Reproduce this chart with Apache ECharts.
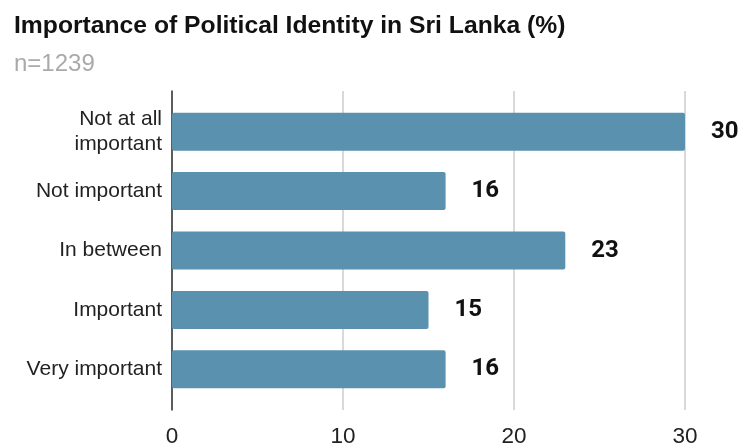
<!DOCTYPE html>
<html>
<head>
<meta charset="utf-8">
<style>
  html, body { margin: 0; padding: 0; background: #fff; }
  #chart { width: 739px; height: 448px; }
</style>
<script src="https://cdn.jsdelivr.net/npm/echarts@6/dist/echarts.min.js"></script>
</head>
<body>
<div id="chart"></div>
<script>
// Survey response categories, top to bottom
const categories = ['Not at all\nimportant', 'Not important', 'In between', 'Important', 'Very important'];
// Share of respondents (%)
const shares = [30, 16, 23, 15, 16];
// Horizontal axis ticks
const xTicks = { min: 0, max: 30, interval: 10 };

const chart = echarts.init(document.getElementById('chart'), null, { renderer: 'canvas' });

const plotLeft = 172;
const plotRight = 54;
const sans = 'Liberation Sans, Arial, sans-serif';

chart.setOption({
  animation: false,
  textStyle: { fontFamily: sans },
  title: {
    text: 'Importance of Political Identity in Sri Lanka (%)',
    subtext: 'n=1239',
    left: 14,
    top: 14,
    padding: 0,
    itemGap: 13,
    textStyle: { fontSize: 24.7, fontWeight: 'bold', color: '#111', fontFamily: sans },
    subtextStyle: { fontSize: 24, color: '#aaaaaa', fontFamily: sans }
  },
  grid: [
    // bars
    { left: plotLeft, right: plotRight, top: 102, height: 297 },
    // value axis frame: gridlines, tick labels and the zero line
    { left: plotLeft, right: plotRight, top: 91, bottom: 36 }
  ],
  xAxis: [
    {
      gridIndex: 0, type: 'value', min: xTicks.min, max: xTicks.max, interval: xTicks.interval,
      show: false
    },
    {
      gridIndex: 1, type: 'value', min: xTicks.min, max: xTicks.max, interval: xTicks.interval,
      axisLine: { show: false },
      axisTick: { show: false },
      axisLabel: { fontSize: 22.5, color: '#222', margin: 15 },
      splitLine: { show: true, lineStyle: { color: '#cccccc', width: 1.5 } }
    }
  ],
  yAxis: [
    {
      gridIndex: 0, type: 'category', data: categories, inverse: true,
      axisLine: { show: false },
      axisTick: { show: false },
      axisLabel: { fontSize: 21, color: '#222', margin: 10, lineHeight: 25 },
      splitLine: { show: false }
    },
    {
      gridIndex: 1, type: 'value', min: 0, max: 1,
      axisLine: { show: true, lineStyle: { color: '#333', width: 1.5 } },
      axisTick: { show: false },
      axisLabel: { show: false },
      splitLine: { show: false }
    }
  ],
  series: [
    {
      type: 'bar',
      xAxisIndex: 0,
      yAxisIndex: 0,
      data: shares,
      barWidth: 38,
      itemStyle: { color: '#5991ae', borderRadius: 2 },
      label: {
        show: true,
        position: 'right',
        distance: 26,
        fontSize: 24,
        fontWeight: 'bold',
        color: '#111',
        fontFamily: 'Roboto, sans-serif'
      },
      z: 3
    }
  ]
});
</script>
</body>
</html>
